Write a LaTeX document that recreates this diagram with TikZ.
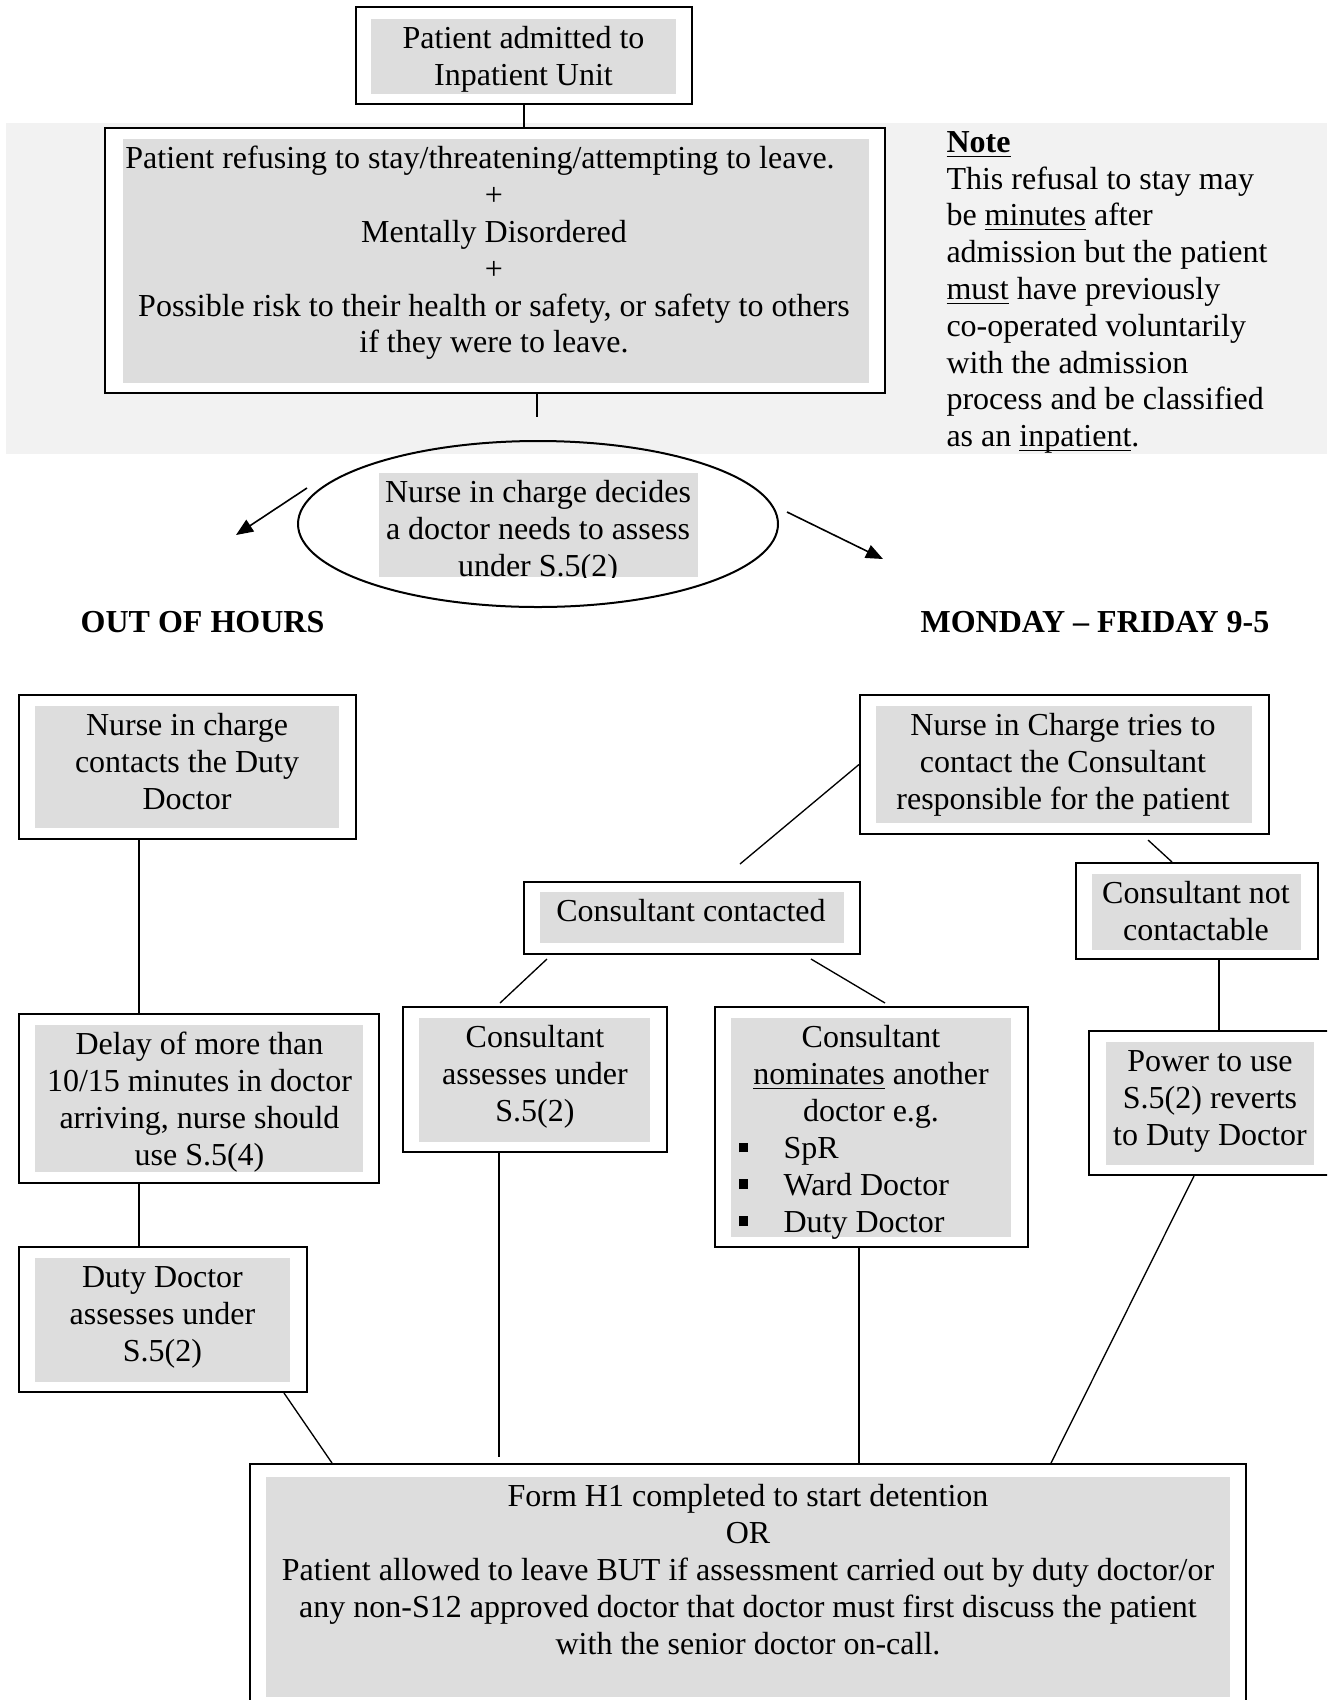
\documentclass[tikz,border=0pt]{standalone}
\usepackage{fontspec}
\setmainfont{Liberation Serif}
\usetikzlibrary{arrows.meta,shapes.geometric,fit}
\definecolor{boxgray}{RGB}{221,221,221}
\definecolor{bandgray}{RGB}{242,242,242}
\newcommand{\undl}[1]{\underline{\smash{#1}}}
\newcommand{\bul}{\rule[2.4pt]{3.4pt}{3.7pt}\hspace{13.5pt}}
\begin{document}
\begin{tikzpicture}[x=0.375pt,y=-0.375pt,
  outerbox/.style={draw=black, line width=0.75pt, fill=white, inner sep=0pt},
  graybox/.style={fill=boxgray, inner sep=0pt},
  txt/.style={align=center, inner sep=0pt, anchor=north, font=\fontsize{12}{13.8}\selectfont},
  head/.style={inner sep=0pt, anchor=base, font=\fontsize{12}{13.8}\selectfont\bfseries},
  conn/.style={line width=0.5pt},
  arr/.style={line width=0.6pt, -{Triangle[length=6.4pt,width=5.2pt]}}]
\useasboundingbox (0,0) rectangle (1327,1700);
\begin{scope}
\clip (0,0) rectangle (1327,1700);
% band
\node[fill=bandgray, inner sep=0pt, fit={(6,123) (1327,454)}] (band) {};
% box 1
\node[outerbox, fit={(356,7) (692,104)}] (b1) {};
\node[graybox, fit={(371,19) (676,94)}] (b1g) {};
\node[txt] (b1t) at (523.5,22.5) {\strut Patient admitted to\\Inpatient Unit};
% box 2
\node[outerbox, fit={(105,128) (885,393)}] (b2) {};
\node[graybox, fit={(123,139) (869,383)}] (b2g) {};
\node[txt] (b2t) at (494,142.5) {\strut Patient refusing to stay/threatening/attempting to leave.\hspace*{10.5pt}\\+\\Mentally Disordered\\+\\Possible risk to their health or safety, or safety to others\\if they were to leave.};
% note
\node[anchor=north west, align=left, inner sep=0pt, font=\fontsize{12}{13.8}\selectfont] (note) at (946,126) {\strut\textbf{\undl{Note}}\\This refusal to stay may\\be \undl{minutes} after\\admission but the patient\\\undl{must} have previously\\co-operated voluntarily\\with the admission\\process and be classified\\as an \undl{inpatient}.};
% ellipse
\node[draw, ellipse, line width=0.75pt, minimum width=180pt, minimum height=62.25pt, inner sep=0pt] (ell) at (538,524) {};
\node[graybox, fit={(379,473) (698,577)}] (ellg) {};
\begin{scope}
\clip (379,473) rectangle (698,577);
\node[txt] (ellt) at (538,476.5) {\strut Nurse in charge decides\\a doctor needs to assess\\under S.5(2)};
\end{scope}
% headings
\node[head] (hout) at (202.5,632) {OUT OF HOURS};
\node[head] (hmon) at (1095,632) {MONDAY – FRIDAY 9-5};
% nurse contacts
\node[outerbox, fit={(19,695) (356,839)}] (nic) {};
\node[graybox, fit={(35,706) (339,828)}] (nicg) {};
\node[txt] (nict) at (187,709.5) {\strut Nurse in charge\\contacts the Duty\\Doctor};
% nurse tries
\node[outerbox, fit={(860,695) (1269,834)}] (nit) {};
\node[graybox, fit={(876,706) (1252,823)}] (nitg) {};
\node[txt] (nitt) at (1063,709.5) {\strut Nurse in Charge tries to\\contact the Consultant\\responsible for the patient};
% consultant contacted
\node[outerbox, fit={(524,882) (860,954)}] (cc) {};
\node[graybox, fit={(540,892) (844,943)}] (ccg) {};
\node[txt] (cct) at (691,895.5) {\strut Consultant contacted};
% consultant not contactable
\node[outerbox, fit={(1076,863) (1318,959)}] (cnc) {};
\node[graybox, fit={(1092,874) (1301,950)}] (cncg) {};
\node[txt] (cnct) at (1196,877.5) {\strut Consultant not\\contactable};
% delay
\node[outerbox, fit={(19,1014) (379,1183)}] (delay) {};
\node[graybox, fit={(35,1025) (363,1172)}] (delayg) {};
\node[txt] (delayt) at (199.5,1028.5) {\strut Delay of more than\\10/15 minutes in doctor\\arriving, nurse should\\use S.5(4)};
% consultant assesses
\node[outerbox, fit={(403,1007) (667,1152)}] (ca) {};
\node[graybox, fit={(419,1018) (650,1142)}] (cag) {};
\node[txt] (cat) at (535,1021.5) {\strut Consultant\\assesses under\\S.5(2)};
% consultant nominates
\node[outerbox, fit={(715,1007) (1028,1247)}] (cn) {};
\node[graybox, fit={(731,1018) (1011,1237)}] (cng) {};
\node[txt] (cnt) at (871,1021.5) {\strut Consultant\\\undl{nominates} another\\doctor e.g.};
\node[anchor=north west, align=left, inner sep=0pt, font=\fontsize{12}{13.8}\selectfont] (cnl) at (738,1132.5) {\strut\bul SpR\\\bul Ward Doctor\\\bul Duty Doctor};
% duty doctor assesses
\node[outerbox, fit={(19,1247) (307,1392)}] (duty) {};
\node[graybox, fit={(35,1258) (290,1382)}] (dutyg) {};
\node[txt] (dutyt) at (162.5,1261.5) {\strut Duty Doctor\\assesses under\\S.5(2)};
% power
\node[outerbox, fit={(1089,1031) (1345,1175)}] (pw) {};
\node[graybox, fit={(1106,1042) (1314,1165)}] (pwg) {};
\node[txt] (pwt) at (1210,1045.5) {\strut Power to use\\S.5(2) reverts\\to Duty Doctor};
% final
\node[outerbox, fit={(250,1464) (1246,1715)}] (final) {};
\node[graybox, fit={(266,1477) (1230,1697)}] (finalg) {};
\node[txt] (finalt) at (748,1480.5) {\strut Form H1 completed to start detention\\OR\\Patient allowed to leave BUT if assessment carried out by duty doctor/or\\any non-S12 approved doctor that doctor must first discuss the patient\\with the senior doctor on-call.};
% coordinates
\coordinate (e2) at (537,417);
\coordinate (xA) at (139,0);
\coordinate (aL1) at (307,488);
\coordinate (aL2) at (236,535);
\coordinate (aR1) at (787,512);
\coordinate (aR2) at (883,559);
\coordinate (u1) at (284,0);
\coordinate (u2) at (332,0);
\coordinate (v1) at (740,864);
\coordinate (v2) at (1148,840);
\coordinate (v3) at (1172,0);
\coordinate (w1) at (547,959);
\coordinate (w2) at (500,1003);
\coordinate (w3) at (811,959);
\coordinate (w4) at (885,1003);
\coordinate (x5) at (1219,0);
\coordinate (y1) at (1194,0);
\coordinate (y2) at (1051,0);
\coordinate (z1) at (499,1457);
\coordinate (z2) at (859,0);
% connectors
\draw[conn] (b1.south) -- (b1.south |- b2.north);
\draw[conn] (b2.south -| e2) -- (e2);
\draw[arr] (aL1) -- (aL2);
\draw[arr] (aR1) -- (aR2);
\draw[conn] (nic.south -| xA) -- (delay.north -| xA);
\draw[conn] (delay.south -| xA) -- (duty.north -| xA);
\draw[conn] (duty.south -| u1) -- (final.north -| u2);
\draw[conn] (nit.west) -- (v1);
\draw[conn] (v2) -- (cnc.north -| v3);
\draw[conn] (w1) -- (w2);
\draw[conn] (w3) -- (w4);
\draw[conn] (cnc.south -| x5) -- (pw.north -| x5);
\draw[conn] (pw.south -| y1) -- (final.north -| y2);
\draw[conn] (ca.south -| z1) -- (z1);
\draw[conn] (cn.south -| z2) -- (final.north -| z2);
\end{scope}
\end{tikzpicture}
\end{document}
